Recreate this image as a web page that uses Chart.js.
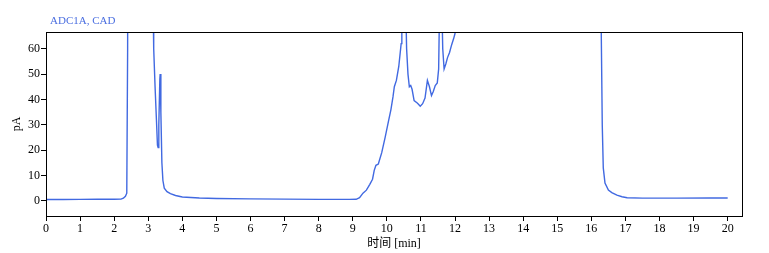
<!DOCTYPE html>
<html><head><meta charset="utf-8">
<script src="https://cdn.jsdelivr.net/npm/chart.js@4.4.1/dist/chart.umd.min.js"></script>
<style>html,body{margin:0;padding:0;background:#fff}#wrap{width:769px;height:253px}</style>
</head><body><div id="wrap"><canvas id="c" width="769" height="253"></canvas></div>
<script>
const signalTitle = "ADC1A, CAD";
const xAxisTitle = "时间 [min]";
const yAxisTitle = "pA";
const xTicks = [0,1,2,3,4,5,6,7,8,9,10,11,12,13,14,15,16,17,18,19,20];
const yTicks = [0,10,20,30,40,50,60];
const times = [0,0.5,1.0,1.5,2.0,2.2,2.27,2.33,2.37,2.395,2.42,3.1,3.14,3.16,3.2,3.24,3.27,3.29,3.31,3.34,3.35,3.37,3.4,3.43,3.47,3.55,3.65,3.8,4.0,4.5,5.0,6.0,7.0,8.0,8.9,9.1,9.2,9.3,9.4,9.5,9.58,9.63,9.68,9.75,9.85,9.95,10.05,10.12,10.18,10.22,10.28,10.35,10.42,10.44,10.55,10.58,10.62,10.66,10.7,10.74,10.8,10.9,10.98,11.05,11.12,11.19,11.25,11.31,11.36,11.42,11.48,11.52,11.55,11.61,11.64,11.68,11.73,11.78,11.84,11.9,11.96,12.0,12.05,16.28,16.32,16.35,16.4,16.5,16.6,16.75,16.9,17.05,17.5,18.5,19.5,20.0];
const signal = [0.5,0.5,0.55,0.6,0.6,0.65,1.0,1.8,3,60,300,300,80,60,45,32,22,21,30,48,50,35,15,8,5,3.6,2.8,2.1,1.5,1.1,0.9,0.75,0.65,0.55,0.55,0.6,1.2,3,4.2,6.5,8.5,12,14,14.5,19,25,31.5,36,41,45,47.5,53,62,80,80,60,50,45,45.5,44,39.5,38.5,37.3,38.3,40.5,47.5,45,41.5,43,45.5,46.5,52,80,80,60,52,54,56.5,58.5,61.5,64,66,80,80,30,13,7,4.2,3.2,2.2,1.6,1.2,1.05,1.05,1.1,1.1];

const points = times.map((t,i)=>({x:t,y:signal[i]}));
const serif = '"Liberation Serif", "Noto Sans CJK SC", serif';

const framePlugin = {
  id:'frame',
  afterDraw(chart){
    const {ctx, chartArea:a} = chart;
    ctx.save();
    ctx.strokeStyle='#000'; ctx.lineWidth=1;
    ctx.strokeRect(Math.round(a.left)+0.5, Math.round(a.top)+0.5, Math.round(a.right-a.left), Math.round(a.bottom-a.top));
    ctx.fillStyle='#4a6ee0';
    ctx.font='11px '+serif;
    ctx.textBaseline='middle';
    ctx.fillText(signalTitle, 50, 21);
    ctx.restore();
  }
};

new Chart(document.getElementById('c'), {
  type:'line',
  data:{datasets:[{data:points, borderColor:'#4169e1', borderWidth:1.4, pointRadius:0, tension:0, fill:false}]},
  options:{
    responsive:false, animation:false,
    layout:{padding:{left:0, top:32, right:27, bottom:0}},
    plugins:{legend:{display:false}, tooltip:{enabled:false}},
    scales:{
      x:{type:'linear', min:0, max:20.42,
        afterBuildTicks:s=>{s.ticks = xTicks.map(v=>({value:v}));},
        afterFit:s=>{s.height=37;},
        grid:{drawOnChartArea:false, tickLength:5, color:'#000'},
        border:{color:'#000', width:1},
        ticks:{color:'#000', font:{family:serif, size:12}, padding:1, maxRotation:0, autoSkip:false},
        title:{display:true, text:xAxisTitle, color:'#000', font:{family:serif, size:12}, padding:{top:0,bottom:2}}
      },
      y:{type:'linear', min:-6, max:66.6,
        afterBuildTicks:s=>{s.ticks = yTicks.map(v=>({value:v}));},
        afterFit:s=>{s.width=46;},
        grid:{drawOnChartArea:false, tickLength:5, color:'#000'},
        border:{color:'#000', width:1},
        ticks:{color:'#000', font:{family:serif, size:12}, padding:1},
        title:{display:true, text:yAxisTitle, color:'#000', font:{family:serif, size:12}, padding:{top:10,bottom:0}}
      }
    }
  },
  plugins:[framePlugin]
});
</script></body></html>
